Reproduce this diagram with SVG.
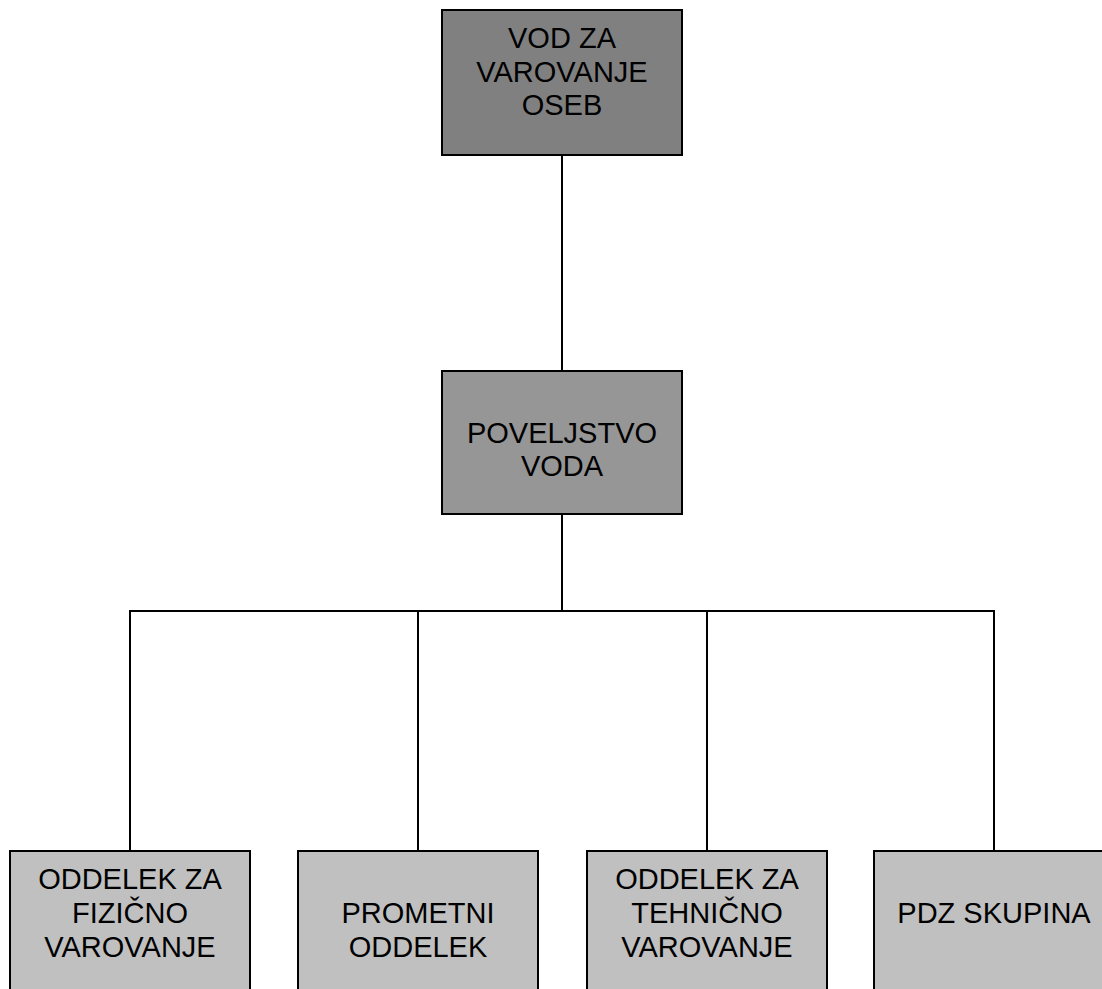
<svg xmlns="http://www.w3.org/2000/svg" width="1102" height="989" viewBox="0 0 1102 989">
<style>
.box{stroke:#000;stroke-width:2}
.l1{fill:#808080}
.l2{fill:#969696}
.l3{fill:#c0c0c0}
text{font-family:"Liberation Sans",Arial,sans-serif;font-size:29px;fill:#000;text-anchor:middle}
.conn{stroke:#000;stroke-width:2;fill:none}
</style>
<rect width="1102" height="989" fill="#fff"/>
<g id="connectors">
<line class="conn" x1="562" y1="155" x2="562" y2="371"/>
<line class="conn" x1="562" y1="514" x2="562" y2="611"/>
<polyline class="conn" points="130,851 130,611 994,611 994,851"/>
<line class="conn" x1="418" y1="611" x2="418" y2="851"/>
<line class="conn" x1="707" y1="611" x2="707" y2="851"/>
</g>
<g id="vod">
<rect class="box l1" x="442" y="10" width="240" height="145"/>
<text x="562" y="48">VOD ZA</text>
<text x="562" y="82">VAROVANJE</text>
<text x="562" y="115">OSEB</text>
</g>
<g id="poveljstvo">
<rect class="box l2" x="442" y="371" width="240" height="143"/>
<text x="562" y="443">POVELJSTVO</text>
<text x="562" y="476">VODA</text>
</g>
<g id="fizicno">
<rect class="box l3" x="10" y="851" width="240" height="150"/>
<text x="130" y="889">ODDELEK ZA</text>
<text x="130" y="923">FIZIČNO</text>
<text x="130" y="957">VAROVANJE</text>
</g>
<g id="prometni">
<rect class="box l3" x="298" y="851" width="240" height="150"/>
<text x="418" y="923">PROMETNI</text>
<text x="418" y="957">ODDELEK</text>
</g>
<g id="tehnicno">
<rect class="box l3" x="587" y="851" width="240" height="150"/>
<text x="707" y="889">ODDELEK ZA</text>
<text x="707" y="923">TEHNIČNO</text>
<text x="707" y="957">VAROVANJE</text>
</g>
<g id="pdz">
<rect class="box l3" x="874" y="851" width="240" height="150"/>
<text x="994" y="923">PDZ SKUPINA</text>
</g>
</svg>
